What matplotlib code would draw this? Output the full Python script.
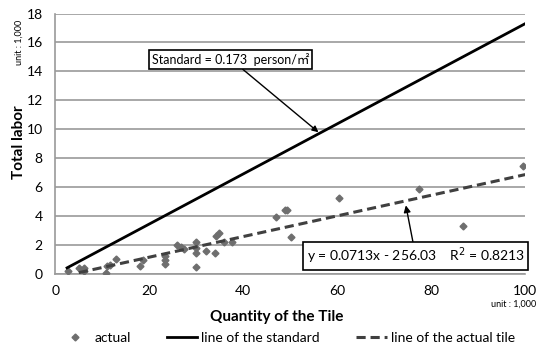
import numpy as np
import matplotlib.pyplot as plt

plt.rcParams["font.family"] = ["Lato", "Noto Sans CJK SC", "DejaVu Sans"]

# scatter of actual values (unit: 1,000)
actual_x = [2.6, 5.0, 6.0, 6.2, 10.7, 10.9, 11.6, 13.0, 18.0, 18.6,
            23.3, 23.3, 23.3, 26.0, 26.8, 27.3, 30.0, 30.0, 30.0, 30.0,
            32.0, 33.9, 34.3, 34.9, 35.8, 37.5, 47.0, 48.8, 49.3, 50.2,
            60.3, 77.5, 86.8, 99.5]
actual_y = [0.2, 0.4, 0.4, 0.2, 0.1, 0.55, 0.6, 1.03, 0.55, 1.0,
            1.23, 0.96, 0.69, 2.0, 1.9, 1.75, 2.2, 1.8, 1.45, 0.5,
            1.6, 1.45, 2.6, 2.85, 2.2, 2.2, 3.94, 4.45, 4.45, 2.56,
            5.24, 5.9, 3.3, 7.5]

std_x = [2.5, 100]
std_slope = 0.173
fit_x = [5, 100]
fit_slope, fit_icpt = 0.0713, -0.256

x_ticks = [0, 20, 40, 60, 80, 100]
y_ticks = list(range(0, 19, 2))

fig = plt.figure(figsize=(5.37, 3.56), dpi=100)
ax = fig.add_axes([0.103, 0.230, 0.875, 0.732])

ax.plot(actual_x, actual_y, "D", color="#6e6e6e", markersize=3.5, label="actual", zorder=3)
ax.plot(std_x, [std_slope * v for v in std_x], color="black", lw=2, label="line of the standard", zorder=4)
ax.plot(fit_x, [fit_slope * v + fit_icpt for v in fit_x], color="#404040", lw=2.2,
        ls=(0, (3, 1.6)), label="line of the actual tile", zorder=4)

ax.set_xlim(0, 100)
ax.set_ylim(0, 18)
ax.set_xticks(x_ticks)
ax.set_yticks(y_ticks)
ax.tick_params(length=0, labelsize=10, pad=8)
ax.tick_params(axis="y", pad=9)
ax.grid(axis="y", color="#9a9a9a", lw=1.2)
ax.set_axisbelow(True)
for s in ["top", "right"]:
    ax.spines[s].set_visible(False)
for s in ["left", "bottom"]:
    ax.spines[s].set_color("#9a9a9a")
    ax.spines[s].set_linewidth(1.2)

fig.text(0.036, 0.60, "Total labor", rotation=90, ha="center", va="center",
         fontsize=11, fontweight="bold")
fig.text(0.516, 0.11, "Quantity of the Tile", ha="center", va="center",
         fontsize=11, fontweight="bold")
fig.text(0.036, 0.88, "unit : 1,000", rotation=90, fontsize=6.5, ha="center", va="center")
fig.text(0.998, 0.145, "unit : 1,000", fontsize=6.5, ha="right", va="center")

box = dict(boxstyle="square,pad=0.25", fc="white", ec="black", lw=1.2)
ax.annotate("Standard = 0.173  person/\u33a1", xy=(56, 9.8), xytext=(37.3, 14.85),
            ha="center", va="center", fontsize=9, bbox=box,
            arrowprops=dict(arrowstyle="-|>", color="black", lw=1, shrinkA=0, shrinkB=0))
ax.annotate("y = 0.0713x - 256.03    R$^2$ = 0.8213", xy=(74.6, 4.75), xytext=(76.7, 1.24),
            ha="center", va="center", fontsize=10, bbox=box,
            arrowprops=dict(arrowstyle="-|>", color="black", lw=1, shrinkA=0, shrinkB=0))

fig.legend(loc="lower center", bbox_to_anchor=(0.535, 0.0), ncol=3, frameon=False,
           fontsize=10, handlelength=2.2, columnspacing=2.6, handletextpad=0.3)

fig.savefig("out.png", dpi=100)
